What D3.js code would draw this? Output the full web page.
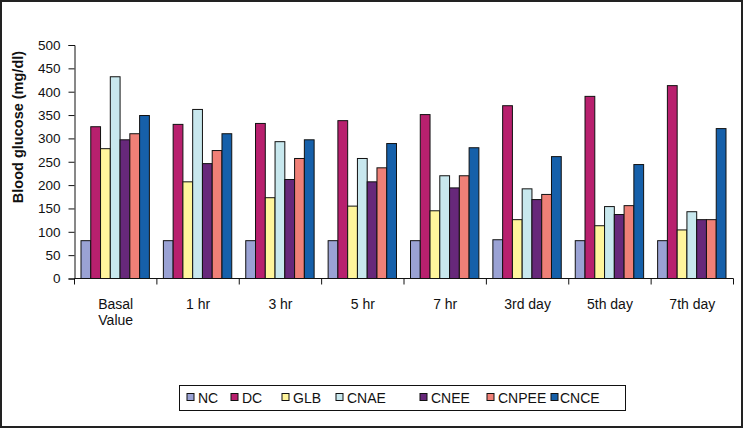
<!DOCTYPE html>
<html>
<head>
<meta charset="utf-8">
<script src="https://cdn.jsdelivr.net/npm/d3@7"></script>
<style>
  html, body { margin: 0; padding: 0; background: #fff; }
  svg { display: block; }
  text { font-family: "Liberation Sans", Arial, sans-serif; fill: #111; }
</style>
</head>
<body>
<svg id="chart" width="744" height="429"></svg>
<script>
const categories = ["Basal Value", "1 hr", "3 hr", "5 hr", "7 hr", "3rd day", "5th day", "7th day"];
const seriesNames = ["NC", "DC", "GLB", "CNAE", "CNEE", "CNPEE", "CNCE"];
const NC    = [81, 81, 81, 81, 81, 83, 81, 81];
const DC    = [325, 330, 332, 338, 351, 370, 390, 413];
const GLB   = [278, 207, 173, 155, 145, 126, 113, 104];
const CNAE  = [432, 362, 293, 257, 220, 192, 154, 143];
const CNEE  = [297, 246, 212, 207, 194, 169, 137, 126];
const CNPEE = [310, 274, 257, 237, 220, 180, 156, 126];
const CNCE  = [349, 310, 297, 289, 280, 261, 244, 321];
const yTicks = [0, 50, 100, 150, 200, 250, 300, 350, 400, 450, 500];
const colors = ["#9aa2d4", "#b8206e", "#fff59c", "#c8e8ee", "#67287a", "#ef8077", "#1660aa"];

const seriesValues = [NC, DC, GLB, CNAE, CNEE, CNPEE, CNCE];

const svg = d3.select("#chart");

// outer frame
svg.append("rect").attr("x", 1).attr("y", 1).attr("width", 741).attr("height", 426)
  .attr("fill", "none").attr("stroke", "#222").attr("stroke-width", 2);

const mLeft = 74.5, mRight = 733.5, mTop = 45, mBottom = 278.5;

const x0 = d3.scaleBand().domain(categories).range([mLeft, mRight]).padding(0);
const step = x0.bandwidth();
const x1 = d3.scaleBand().domain(seriesNames).range([6.5, step - 7.5]).padding(0);
const y = d3.scaleLinear().domain([0, 500]).range([mBottom, mTop]);

// bars
const groups = svg.append("g").selectAll("g")
  .data(categories)
  .join("g")
  .attr("transform", d => `translate(${x0(d)},0)`);

groups.selectAll("rect")
  .data((c, i) => seriesNames.map((s, j) => ({ s, j, v: seriesValues[j][i] })))
  .join("rect")
  .attr("x", d => x1(d.s))
  .attr("y", d => y(d.v))
  .attr("width", x1.bandwidth())
  .attr("height", d => y(0) - y(d.v))
  .attr("fill", (d) => colors[d.j])
  .attr("stroke", "#111")
  .attr("stroke-width", 1);

// y axis
const yAxis = d3.axisLeft(y).tickValues(yTicks).tickSize(6).tickPadding(8);
const gy = svg.append("g").attr("transform", `translate(${mLeft},0)`).call(yAxis);
gy.selectAll("path").attr("stroke", "#111");
gy.selectAll("line").attr("stroke", "#111");
gy.selectAll("text").attr("font-size", "13.5px").attr("font-family", "Liberation Sans, Arial, sans-serif").attr("fill", "#111");

// x axis line and boundary ticks
const boundaries = categories.map(c => x0(c)).concat([mRight]);
const gx = svg.append("g");
gx.append("line").attr("x1", mLeft).attr("x2", mRight).attr("y1", mBottom).attr("y2", mBottom)
  .attr("stroke", "#111");
gx.selectAll("line.tk").data(boundaries).join("line").attr("class", "tk")
  .attr("x1", d => d).attr("x2", d => d).attr("y1", mBottom).attr("y2", mBottom + 6)
  .attr("stroke", "#111");

// category labels
categories.forEach(c => {
  const cx = x0(c) + step / 2;
  const parts = c === "Basal Value" ? ["Basal", "Value"] : [c];
  parts.forEach((p, k) => {
    gx.append("text").attr("x", cx).attr("y", 309 + k * 16)
      .attr("text-anchor", "middle").attr("font-size", "14px").text(p);
  });
});

// y title
svg.append("text")
  .attr("transform", "translate(23,127) rotate(-90)")
  .attr("text-anchor", "middle").attr("font-size", "14.5px").attr("font-weight", "bold")
  .text("Blood glucose (mg/dl)");

// legend
svg.append("rect").attr("x", 179.5).attr("y", 385.5).attr("width", 446).attr("height", 25)
  .attr("fill", "#fff").attr("stroke", "#111").attr("stroke-width", 1);
const legendX = [187, 231, 282, 336, 420, 487, 551];
const lg = svg.append("g").selectAll("g").data(seriesNames).join("g")
  .attr("transform", (d, i) => `translate(${legendX[i]},0)`);
lg.append("rect").attr("x", 0).attr("y", 393.5).attr("width", 7).attr("height", 7)
  .attr("fill", (d, i) => colors[i]).attr("stroke", "#111").attr("stroke-width", 1);
lg.append("text").attr("x", (d, i) => i === 6 ? 9 : 11).attr("y", 402.5)
  .attr("font-size", "14px").text(d => d);
</script>
</body>
</html>
